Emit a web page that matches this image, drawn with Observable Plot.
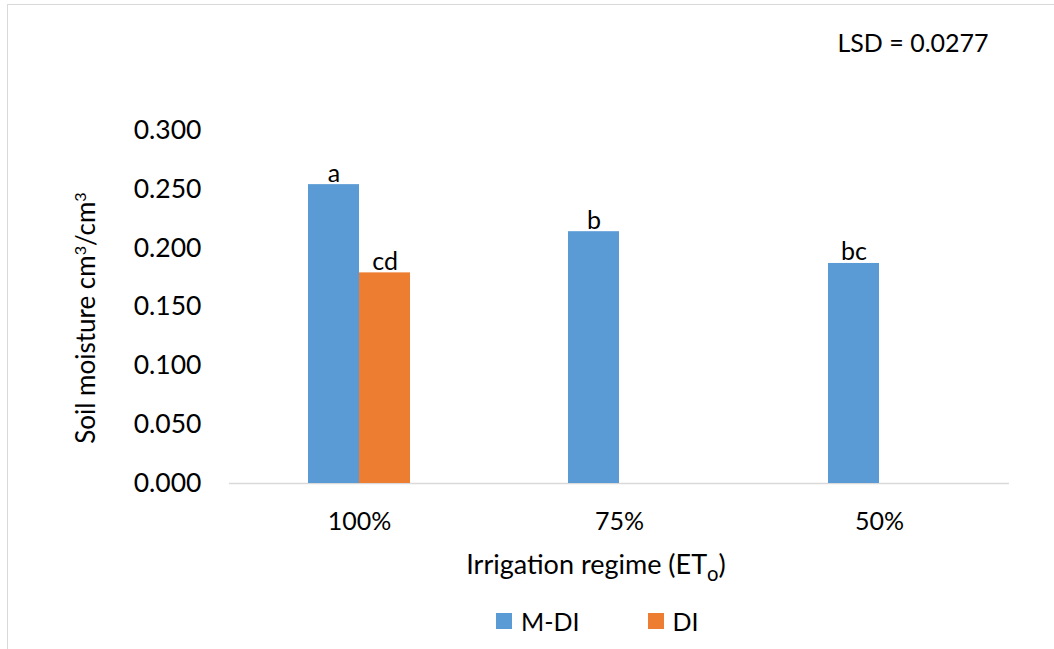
<!DOCTYPE html>
<html>
<head>
<meta charset="utf-8">
<script src="https://cdn.jsdelivr.net/npm/d3@7"></script>
<script src="https://cdn.jsdelivr.net/npm/@observablehq/plot@0.6"></script>
<style>
  body { margin: 0; background: #fff; }
  #chart { position: relative; width: 1054px; height: 649px; overflow: hidden; font-family: Lato, "Open Sans", sans-serif; color: #000; }
  #border { position: absolute; left: 7px; top: 4px; width: 1100px; height: 700px; border-left: 1.5px solid #d9d9d9; border-top: 1.5px solid #d9d9d9; }
  #plot { position: absolute; left: 0; top: 0; }
  .lbl { position: absolute; white-space: nowrap; font-size: 25px; line-height: 1; }
  #ylabel { left: 85px; top: 318px; font-size: 26px; transform: translate(-50%, -50%) rotate(-90deg); }
  #xlabel { left: 596px; top: 563px; font-size: 27px; transform: translate(-50%, -50%); }
  #lsd { left: 913px; top: 42px; transform: translate(-50%, -50%); }
  #legend { position: absolute; left: 496px; top: 606px; display: flex; align-items: center; font-size: 25px; }
  .item { display: flex; align-items: center; }
  .sw { width: 16px; height: 16px; margin-right: 9px; }
  sub { font-size: 0.75em; vertical-align: -0.35em; line-height: 0; }
  sup { font-size: 0.62em; vertical-align: 0.55em; line-height: 0; }
</style>
</head>
<body>
<div id="chart">
  <div id="border"></div>
  <div id="plot"></div>
  <div class="lbl" id="ylabel">Soil moisture cm<sup>3</sup>/cm<sup>3</sup></div>
  <div class="lbl" id="xlabel">Irrigation regime (ET<sub>o</sub>)</div>
  <div class="lbl" id="lsd"></div>
  <div id="legend"></div>
</div>
<script>
// ---- data ----
const regimes = ["100%", "75%", "50%"];
const seriesNames = ["M-DI", "DI"];
const mdiValues = [0.254, 0.214, 0.187];
const diValues = [0.179, null, null];
const mdiLetters = ["a", "b", "bc"];
const diLetters = ["cd", null, null];
const yTicks = [0, 0.05, 0.10, 0.15, 0.20, 0.25, 0.30];
const seriesColors = ["#5B9BD5", "#ED7D31"];
const lsdText = "LSD = 0.0277";

// ---- table ----
const rows = [];
regimes.forEach((r, i) => {
  if (mdiValues[i] != null) rows.push({regime: r, series: "M-DI", value: mdiValues[i], letter: mdiLetters[i]});
  if (diValues[i] != null) rows.push({regime: r, series: "DI", value: diValues[i], letter: diLetters[i]});
});

const plot = Plot.plot({
  width: 1054,
  height: 590,
  marginLeft: 228,
  marginRight: 45,
  marginTop: 130,
  marginBottom: 107,
  style: {fontFamily: "Lato, 'Open Sans', sans-serif", fontSize: "25px", color: "#000", background: "transparent", overflow: "visible"},
  fx: {domain: regimes, padding: 0, label: null},
  x: {domain: seriesNames, paddingInner: 0, paddingOuter: 1.52, axis: null},
  y: {domain: [0, 0.3], axis: null},
  color: {domain: seriesNames, range: seriesColors},
  marks: [
    Plot.axisY({ticks: yTicks, tickFormat: d3.format(".3f"), tickSize: 0, tickPadding: 28, label: null, fontSize: 26.5}),
    Plot.axisFx({anchor: "bottom", tickSize: 0, tickPadding: 29, label: null}),
    Plot.ruleY([0], {stroke: "#d9d9d9", strokeWidth: 1.5}),
    Plot.barY(rows, {fx: "regime", x: "series", y: "value", fill: "series"}),
    Plot.text(rows, {fx: "regime", x: "series", y: "value", text: "letter", lineAnchor: "bottom", dy: -3, fill: "#000"})
  ]
});
document.getElementById("plot").appendChild(plot);

document.getElementById("lsd").textContent = lsdText;
const legend = document.getElementById("legend");
seriesNames.forEach((s, i) => {
  const it = document.createElement("div");
  it.className = "item";
  it.style.marginRight = i === 0 ? "68px" : "0";
  const sw = document.createElement("div");
  sw.className = "sw";
  sw.style.background = seriesColors[i];
  const t = document.createElement("span");
  t.textContent = s;
  it.appendChild(sw);
  it.appendChild(t);
  legend.appendChild(it);
});
</script>
</body>
</html>
